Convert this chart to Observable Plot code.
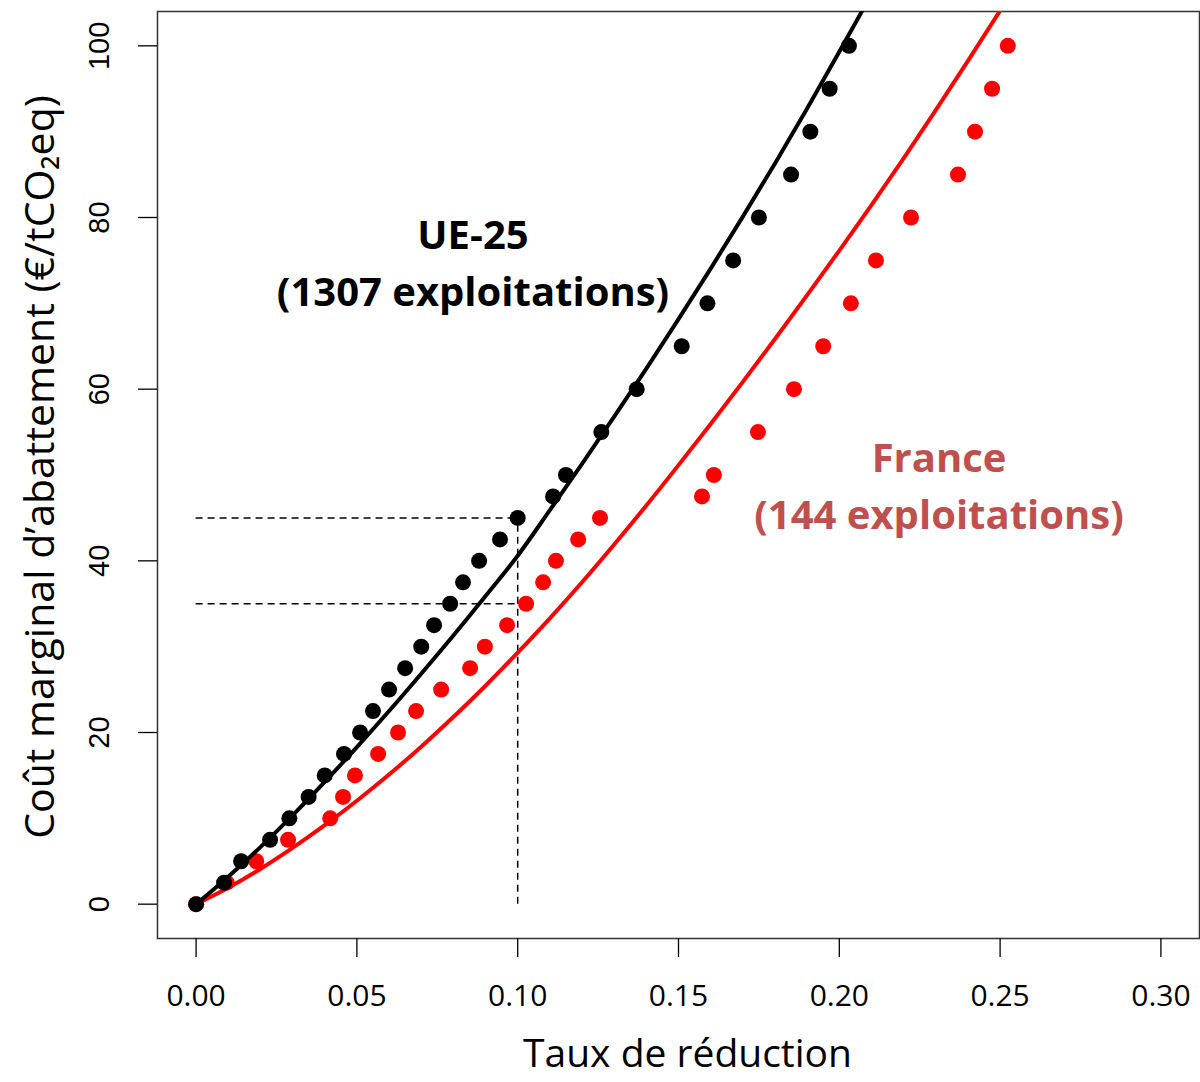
<!DOCTYPE html>
<html>
<head>
<meta charset="utf-8">
<script src="https://cdn.jsdelivr.net/npm/d3@7"></script>
<script src="https://cdn.jsdelivr.net/npm/@observablehq/plot@0.6"></script>
<style>
  html, body { margin: 0; padding: 0; background: #fff; }
  #chart svg { display: block; }
</style>
</head>
<body>
<div id="chart"></div>
<script>
// ---- Data ----
// EU-25 observed points (reduction rate, marginal cost)
const euX = [0, 0.0087, 0.014, 0.023, 0.029, 0.035, 0.040, 0.046, 0.051, 0.055, 0.060, 0.065, 0.070, 0.074, 0.079, 0.083, 0.088, 0.0945, 0.100, 0.111, 0.115, 0.126, 0.137, 0.151, 0.159, 0.167, 0.175, 0.185, 0.191, 0.197, 0.203];
const euY = [0, 2.5, 5, 7.5, 10, 12.5, 15, 17.5, 20, 22.5, 25, 27.5, 30, 32.5, 35, 37.5, 40, 42.5, 45, 47.5, 50, 55, 60, 65, 70, 75, 80, 85, 90, 95, 100];
// France observed points
const frX = [0, 0.0095, 0.0187, 0.0286, 0.0417, 0.0457, 0.0494, 0.0566, 0.0628, 0.0684, 0.0762, 0.0852, 0.0898, 0.0967, 0.1026, 0.1079, 0.1119, 0.1188, 0.1256, 0.1573, 0.161, 0.1747, 0.1859, 0.195, 0.2036, 0.2114, 0.2223, 0.2369, 0.2422, 0.2475, 0.2524];
const frY = [0, 2.5, 5, 7.5, 10, 12.5, 15, 17.5, 20, 22.5, 25, 27.5, 30, 32.5, 35, 37.5, 40, 42.5, 45, 47.5, 50, 55, 60, 65, 70, 75, 80, 85, 90, 95, 100];
// Fitted curves
const euCurveX = [0, 0.01, 0.02, 0.03, 0.04, 0.05, 0.06, 0.07, 0.08, 0.09, 0.10, 0.11, 0.12, 0.13, 0.14, 0.15, 0.16, 0.17, 0.18, 0.19, 0.20, 0.207];
const euCurveY = [0, 3.2, 6.65, 10.35, 14.25, 18.3, 22.5, 26.85, 31.3, 35.9, 40.6, 45.9, 51.3, 56.8, 62.4, 68.15, 74.05, 80.1, 86.3, 92.7, 99.3, 104.0];
const frCurveX = [0, 0.01, 0.02, 0.03, 0.04, 0.05, 0.06, 0.07, 0.08, 0.09, 0.10, 0.11, 0.12, 0.13, 0.14, 0.15, 0.16, 0.17, 0.18, 0.19, 0.20, 0.21, 0.22, 0.23, 0.24, 0.25];
const frCurveY = [0, 1.9, 4.1, 6.55, 9.2, 12.05, 15.1, 18.35, 21.8, 25.45, 29.3, 33.3, 37.5, 41.9, 46.45, 51.15, 55.95, 60.85, 65.85, 70.95, 76.15, 81.45, 86.9, 92.5, 98.25, 104.1];
// Reference guides
const refX = 0.10;
const refLevels = [35, 45];
// Ticks
const xTicks = [0, 0.05, 0.10, 0.15, 0.20, 0.25, 0.30];
const yTicks = [0, 20, 40, 60, 80, 100];
// Annotation labels
const labelText = ["UE-25", "(1307 exploitations)", "France", "(144 exploitations)"];
const labelX = [0.0861, 0.0861, 0.231, 0.231];
const labelY = [77.8, 71.2, 51.8, 45.2];
const labelColor = ["#000000", "#000000", "#c0504d", "#c0504d"];

// ---- Build tables ----
const eu = euX.map((x, i) => ({x, y: euY[i]}));
const fr = frX.map((x, i) => ({x, y: frY[i]}));
const euCurve = euCurveX.map((x, i) => ({x, y: euCurveY[i]}));
const frCurve = frCurveX.map((x, i) => ({x, y: frCurveY[i]}));
const labels = labelText.map((t, i) => ({t, x: labelX[i], y: labelY[i], c: labelColor[i]}));

const W = 1200, H = 1082;
const font = "'Open Sans', Lato, sans-serif";

const chart = Plot.plot({
  width: W,
  height: H,
  marginLeft: 157,
  marginRight: 1,
  marginTop: 11,
  marginBottom: 144,
  style: {fontFamily: font, background: "#fff", color: "#000", overflow: "visible"},
  x: {domain: [-0.012, 0.312]},
  y: {domain: [-4, 104]},
  marks: [
    Plot.frame({stroke: "#333", strokeWidth: 1.5}),
    Plot.axisX({ticks: xTicks, tickSize: 19, tickPadding: 27, tickFormat: d3.format(".2f"), fontSize: 30, label: null, fontFamily: font, strokeWidth: 1.3}),
    Plot.axisY({ticks: yTicks, tickSize: 19, tickPadding: 30, tickRotate: -90, fontSize: 29, label: null, fontFamily: "'Liberation Sans', Arial, sans-serif", strokeWidth: 1.3}),
    // dashed reference lines
    Plot.ruleY(refLevels, {y: d => d, x1: 0, x2: refX, stroke: "#000", strokeWidth: 1.5, strokeDasharray: "7,5"}),
    Plot.ruleX([refX], {x: d => d, y1: 0, y2: d3.max(refLevels), stroke: "#000", strokeWidth: 1.5, strokeDasharray: "7,5"}),
    // France
    Plot.line(frCurve, {x: "x", y: "y", stroke: "#ff0000", strokeWidth: 4, curve: "monotone-x", clip: true}),
    Plot.dot(fr, {x: "x", y: "y", r: 8, fill: "#ff0000"}),
    // EU-25
    Plot.line(euCurve, {x: "x", y: "y", stroke: "#000", strokeWidth: 4, curve: "monotone-x", clip: true}),
    Plot.dot(eu, {x: "x", y: "y", r: 8, fill: "#000"}),
    // annotations
    Plot.text(labels, {x: "x", y: "y", text: "t", fill: "c", fontSize: 40, fontWeight: "bold", fontFamily: font}),
    // axis titles
    Plot.text(["Taux de réduction"], {frameAnchor: "bottom", dy: 116, dx: 9, text: d => d, fontSize: 39, fontFamily: font, lineAnchor: "middle", textAnchor: "middle"}),
    Plot.text(["Coût marginal d’abattement (€/tCO₂eq)"], {frameAnchor: "left", dx: -117, dy: -8, text: d => d, rotate: -90, fontSize: 41, fontFamily: font, lineAnchor: "middle", textAnchor: "middle"})
  ]
});
document.getElementById("chart").appendChild(chart);
</script>
</body>
</html>
